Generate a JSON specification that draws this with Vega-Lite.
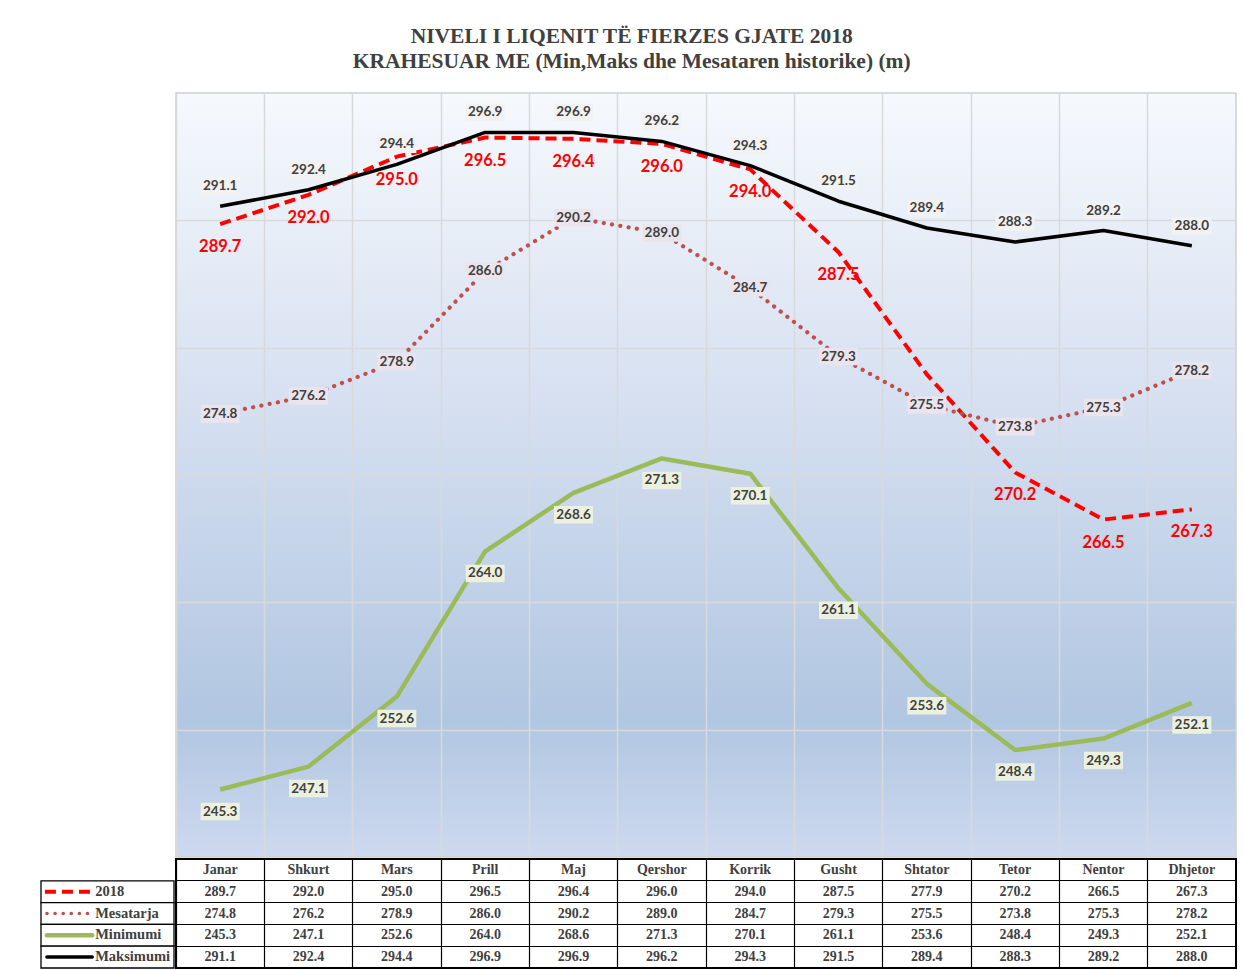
{
  "$schema": "https://vega.github.io/schema/vega-lite/v6.json",
  "background": "white",
  "padding": {"left": 40, "top": 25, "right": 10, "bottom": 2},
  "title": {
    "text": ["NIVELI I LIQENIT TË FIERZES GJATE 2018", "KRAHESUAR ME (Min,Maks dhe Mesataren historike) (m)"],
    "font": "Liberation Serif", "fontSize": 21.5, "fontWeight": "bold", "color": "#404040",
    "anchor": "middle", "lineHeight": 25, "offset": 20, "dx": -7
  },
  "datasets": {
    "d": [
      {"month": "Janar", "series": "2018", "value": 289.7},
      {"month": "Shkurt", "series": "2018", "value": 292.0},
      {"month": "Mars", "series": "2018", "value": 295.0},
      {"month": "Prill", "series": "2018", "value": 296.5},
      {"month": "Maj", "series": "2018", "value": 296.4},
      {"month": "Qershor", "series": "2018", "value": 296.0},
      {"month": "Korrik", "series": "2018", "value": 294.0},
      {"month": "Gusht", "series": "2018", "value": 287.5},
      {"month": "Shtator", "series": "2018", "value": 277.9},
      {"month": "Tetor", "series": "2018", "value": 270.2},
      {"month": "Nentor", "series": "2018", "value": 266.5},
      {"month": "Dhjetor", "series": "2018", "value": 267.3},
      {"month": "Janar", "series": "Mesatarja", "value": 274.8},
      {"month": "Shkurt", "series": "Mesatarja", "value": 276.2},
      {"month": "Mars", "series": "Mesatarja", "value": 278.9},
      {"month": "Prill", "series": "Mesatarja", "value": 286.0},
      {"month": "Maj", "series": "Mesatarja", "value": 290.2},
      {"month": "Qershor", "series": "Mesatarja", "value": 289.0},
      {"month": "Korrik", "series": "Mesatarja", "value": 284.7},
      {"month": "Gusht", "series": "Mesatarja", "value": 279.3},
      {"month": "Shtator", "series": "Mesatarja", "value": 275.5},
      {"month": "Tetor", "series": "Mesatarja", "value": 273.8},
      {"month": "Nentor", "series": "Mesatarja", "value": 275.3},
      {"month": "Dhjetor", "series": "Mesatarja", "value": 278.2},
      {"month": "Janar", "series": "Minimumi", "value": 245.3},
      {"month": "Shkurt", "series": "Minimumi", "value": 247.1},
      {"month": "Mars", "series": "Minimumi", "value": 252.6},
      {"month": "Prill", "series": "Minimumi", "value": 264.0},
      {"month": "Maj", "series": "Minimumi", "value": 268.6},
      {"month": "Qershor", "series": "Minimumi", "value": 271.3},
      {"month": "Korrik", "series": "Minimumi", "value": 270.1},
      {"month": "Gusht", "series": "Minimumi", "value": 261.1},
      {"month": "Shtator", "series": "Minimumi", "value": 253.6},
      {"month": "Tetor", "series": "Minimumi", "value": 248.4},
      {"month": "Nentor", "series": "Minimumi", "value": 249.3},
      {"month": "Dhjetor", "series": "Minimumi", "value": 252.1},
      {"month": "Janar", "series": "Maksimumi", "value": 291.1},
      {"month": "Shkurt", "series": "Maksimumi", "value": 292.4},
      {"month": "Mars", "series": "Maksimumi", "value": 294.4},
      {"month": "Prill", "series": "Maksimumi", "value": 296.9},
      {"month": "Maj", "series": "Maksimumi", "value": 296.9},
      {"month": "Qershor", "series": "Maksimumi", "value": 296.2},
      {"month": "Korrik", "series": "Maksimumi", "value": 294.3},
      {"month": "Gusht", "series": "Maksimumi", "value": 291.5},
      {"month": "Shtator", "series": "Maksimumi", "value": 289.4},
      {"month": "Tetor", "series": "Maksimumi", "value": 288.3},
      {"month": "Nentor", "series": "Maksimumi", "value": 289.2},
      {"month": "Dhjetor", "series": "Maksimumi", "value": 288.0}
    ],
    "s": [
      {"series": "2018"},
      {"series": "Mesatarja"},
      {"series": "Minimumi"},
      {"series": "Maksimumi"}
    ]
  },
  "columns": 2,
  "spacing": 0,
  "concat": [
    {
      "width": 133, "height": 764,
      "data": {"values": []},
      "mark": "point"
    },
    {
      "width": 1060, "height": 764,
      "data": {"name": "d"},
      "view": {
        "stroke": "#d0d0d0", "strokeWidth": 1.5,
        "fill": {"gradient": "linear", "x1": 0, "y1": 0, "x2": 0, "y2": 1,
          "stops": [
            {"offset": 0, "color": "#f6f9fd"},
            {"offset": 0.45, "color": "#d2ddef"},
            {"offset": 0.82, "color": "#b1c6e1"},
            {"offset": 1, "color": "#cdd9ef"}
          ]}
      },
      "encoding": {
        "x": {
          "field": "month", "type": "ordinal", "bandPosition": 0.5,
          "sort": ["Janar","Shkurt","Mars","Prill","Maj","Qershor","Korrik","Gusht","Shtator","Tetor","Nentor","Dhjetor"],
          "scale": {"type": "band", "paddingInner": 0, "paddingOuter": 0},
          "axis": {"title": null, "labels": false, "ticks": false, "domain": false, "grid": true, "bandPosition": 0, "gridColor": "#d9d9d9", "gridWidth": 1.5}
        },
        "y": {
          "field": "value", "type": "quantitative",
          "scale": {"domain": [240, 300], "zero": false, "nice": false},
          "axis": {"title": null, "labels": false, "ticks": false, "domain": false, "grid": true, "values": [250, 260, 270, 280, 290], "gridColor": "#d9d9d9", "gridWidth": 1.5}
        }
      },
      "layer": [
        {
          "transform": [{"filter": "datum.series == '2018'"}],
          "mark": {"type": "line", "color": "#ff0000", "strokeWidth": 4, "strokeDash": [11, 6]}
        },
        {
          "transform": [{"filter": "datum.series == 'Mesatarja'"}],
          "mark": {"type": "line", "color": "#c0504d", "strokeWidth": 4.2, "strokeDash": [0.1, 8.3], "strokeCap": "round"}
        },
        {
          "transform": [{"filter": "datum.series == 'Minimumi'"}],
          "mark": {"type": "line", "color": "#9bbb59", "strokeWidth": 4.5, "strokeJoin": "round"}
        },
        {
          "transform": [{"filter": "datum.series == 'Maksimumi'"}],
          "mark": {"type": "line", "color": "#000000", "strokeWidth": 3.5, "strokeJoin": "round"}
        },
        {
          "transform": [{"filter": "datum.series == '2018' && datum.month != 'Shtator'"}],
          "mark": {"type": "text", "dy": 23, "color": "#ff0000", "font": "Lato", "fontWeight": "bold", "fontSize": 16.5},
          "encoding": {"text": {"field": "value", "type": "quantitative", "format": ".1f"}}
        },
        {
          "transform": [{"filter": "datum.series == 'Maksimumi'"}],
          "mark": {"type": "point", "shape": "M-1,-0.45L1,-0.45L1,0.45L-1,0.45Z", "size": 1521, "filled": true, "fill": "#f2f2f2", "opacity": 1, "strokeWidth": 0, "yOffset": -20}
        },
        {
          "transform": [{"filter": "datum.series == 'Maksimumi'"}],
          "mark": {"type": "text", "dy": -20, "color": "#404040", "font": "Lato", "fontWeight": "bold", "fontSize": 13.5},
          "encoding": {"text": {"field": "value", "type": "quantitative", "format": ".1f"}}
        },
        {
          "transform": [{"filter": "datum.series == 'Mesatarja'"}],
          "mark": {"type": "point", "shape": "M-1,-0.45L1,-0.45L1,0.45L-1,0.45Z", "size": 1521, "filled": true, "fill": "#ebe4ec", "opacity": 1, "strokeWidth": 0}
        },
        {
          "transform": [{"filter": "datum.series == 'Mesatarja'"}],
          "mark": {"type": "text", "color": "#404040", "font": "Lato", "fontWeight": "bold", "fontSize": 13.5},
          "encoding": {"text": {"field": "value", "type": "quantitative", "format": ".1f"}}
        },
        {
          "transform": [{"filter": "datum.series == 'Minimumi'"}],
          "mark": {"type": "point", "shape": "M-1,-0.45L1,-0.45L1,0.45L-1,0.45Z", "size": 1521, "filled": true, "fill": "#ebf1de", "opacity": 1, "strokeWidth": 0, "yOffset": 22}
        },
        {
          "transform": [{"filter": "datum.series == 'Minimumi'"}],
          "mark": {"type": "text", "dy": 22, "color": "#404040", "font": "Lato", "fontWeight": "bold", "fontSize": 13.5},
          "encoding": {"text": {"field": "value", "type": "quantitative", "format": ".1f"}}
        }
      ]
    },
    {
      "width": 133, "height": 109,
      "data": {"name": "s"},
      "layer": [
        {
          "mark": {"type": "rect", "fill": "white", "stroke": "#000000", "strokeWidth": 1.3},
          "encoding": {
            "y": {"field": "series", "type": "nominal", "scale": {"type": "band", "domain": ["hdr", "2018", "Mesatarja", "Minimumi", "Maksimumi"], "paddingInner": 0, "paddingOuter": 0}, "axis": null},
            "x": {"datum": 0, "type": "quantitative", "scale": {"domain": [0, 135], "nice": false, "zero": false}, "axis": null},
            "x2": {"datum": 135}
          }
        },
        {
          "transform": [{"filter": "datum.series == '2018'"}],
          "mark": {"type": "rule", "color": "#ff0000", "strokeWidth": 4, "strokeDash": [11, 6]},
          "encoding": {
            "y": {"field": "series", "type": "nominal", "bandPosition": 0.5},
            "x": {"datum": 4, "type": "quantitative"},
            "x2": {"datum": 50}
          }
        },
        {
          "transform": [{"filter": "datum.series == 'Mesatarja'"}],
          "mark": {"type": "rule", "color": "#c0504d", "strokeWidth": 3.5, "strokeDash": [0.1, 8], "strokeCap": "round"},
          "encoding": {
            "y": {"field": "series", "type": "nominal", "bandPosition": 0.5},
            "x": {"datum": 6, "type": "quantitative"},
            "x2": {"datum": 52}
          }
        },
        {
          "transform": [{"filter": "datum.series == 'Minimumi'"}],
          "mark": {"type": "rule", "color": "#9bbb59", "strokeWidth": 4.5, "strokeCap": "round"},
          "encoding": {
            "y": {"field": "series", "type": "nominal", "bandPosition": 0.5},
            "x": {"datum": 6, "type": "quantitative"},
            "x2": {"datum": 52}
          }
        },
        {
          "transform": [{"filter": "datum.series == 'Maksimumi'"}],
          "mark": {"type": "rule", "color": "#000000", "strokeWidth": 3.5, "strokeCap": "round"},
          "encoding": {
            "y": {"field": "series", "type": "nominal", "bandPosition": 0.5},
            "x": {"datum": 6, "type": "quantitative"},
            "x2": {"datum": 52}
          }
        },
        {
          "mark": {"type": "text", "align": "left", "baseline": "middle", "color": "#404040", "font": "Liberation Serif", "fontWeight": "bold", "fontSize": 14.5},
          "encoding": {
            "y": {"field": "series", "type": "nominal", "bandPosition": 0.5},
            "x": {"datum": 55, "type": "quantitative"},
            "text": {"field": "series", "type": "nominal"}
          }
        }
      ]
    },
    {
      "width": 1060, "height": 109,
      "data": {"name": "d"},
      "view": {"stroke": "#000000", "strokeWidth": 2},
      "encoding": {
        "x": {
          "field": "month", "type": "ordinal", "bandPosition": 0.5,
          "sort": ["Janar","Shkurt","Mars","Prill","Maj","Qershor","Korrik","Gusht","Shtator","Tetor","Nentor","Dhjetor"],
          "scale": {"type": "band", "paddingInner": 0, "paddingOuter": 0},
          "axis": {"title": null, "labels": false, "ticks": false, "domain": false, "grid": true, "bandPosition": 0, "gridColor": "#000000", "gridWidth": 1.2, "gridOpacity": 1}
        }
      },
      "layer": [
        {
          "mark": {"type": "text", "color": "#404040", "font": "Liberation Serif", "fontWeight": "bold", "fontSize": 14},
          "encoding": {
            "y": {"field": "series", "type": "nominal", "bandPosition": 0.5,
              "scale": {"type": "band", "domain": ["hdr", "2018", "Mesatarja", "Minimumi", "Maksimumi"], "paddingInner": 0, "paddingOuter": 0},
              "axis": {"title": null, "labels": false, "ticks": false, "domain": false, "grid": true, "bandPosition": 0, "gridColor": "#000000", "gridWidth": 1.2, "gridOpacity": 1}},
            "text": {"field": "value", "type": "quantitative", "format": ".1f"}
          }
        },
        {
          "transform": [{"filter": "datum.series == '2018'"}],
          "mark": {"type": "text", "color": "#404040", "font": "Liberation Serif", "fontWeight": "bold", "fontSize": 14},
          "encoding": {
            "y": {"datum": "hdr", "type": "nominal", "bandPosition": 0.5,
              "axis": {"title": null, "labels": false, "ticks": false, "domain": false, "grid": true, "bandPosition": 0, "gridColor": "#000000", "gridWidth": 1.2, "gridOpacity": 1}},
            "text": {"field": "month", "type": "nominal"}
          }
        }
      ]
    }
  ],
  "config": {
    "view": {"stroke": null}
  }
}
